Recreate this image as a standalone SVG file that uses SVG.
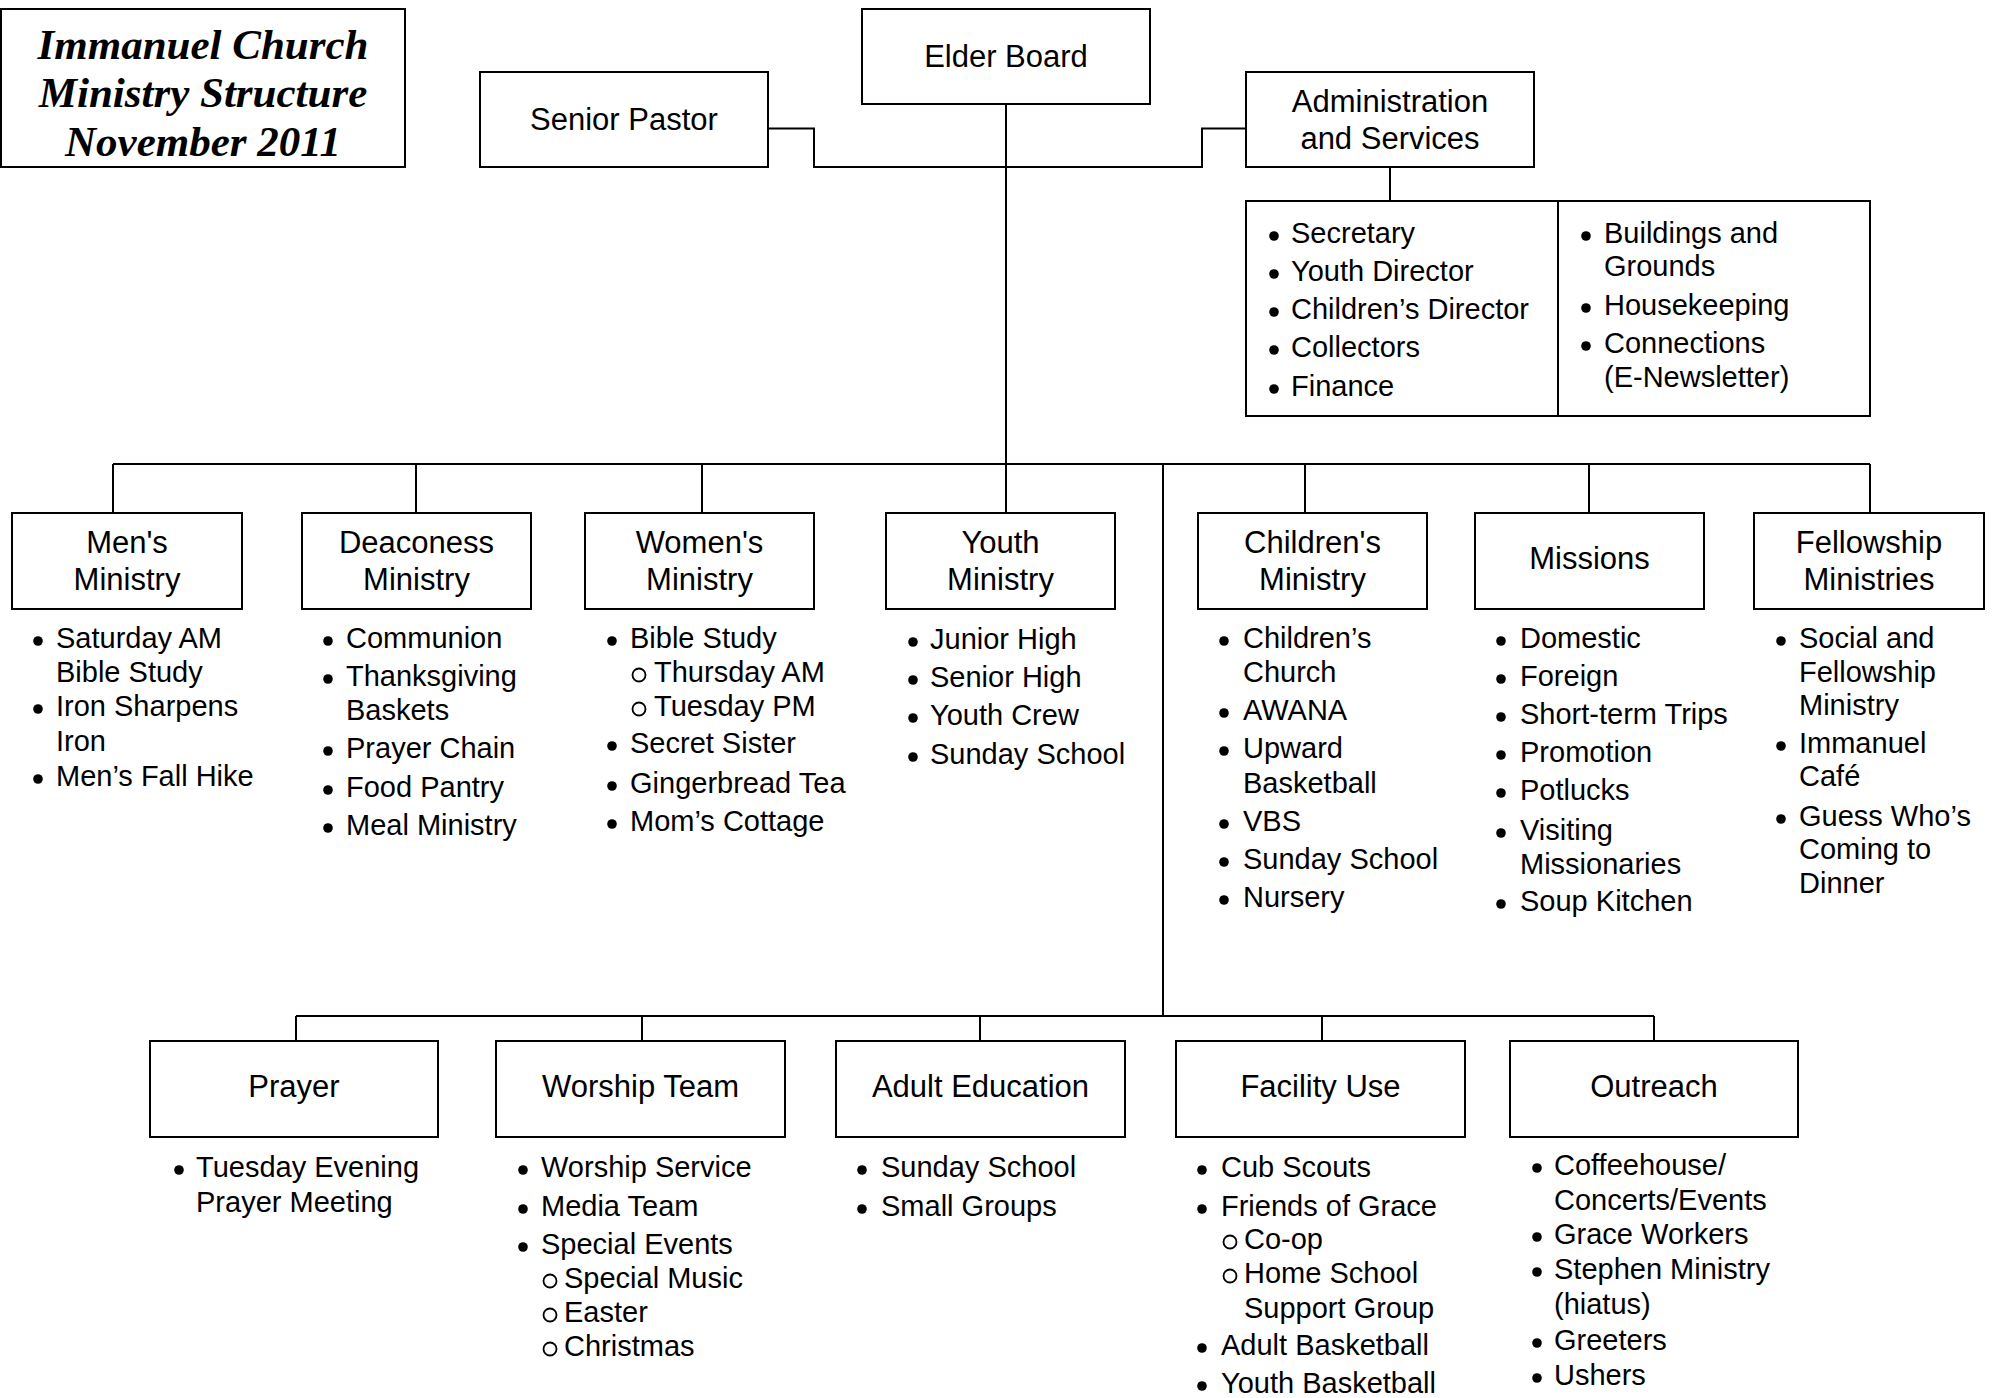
<svg xmlns="http://www.w3.org/2000/svg" width="1996" height="1398" viewBox="0 0 1996 1398">
<style>
.box{fill:#fff;stroke:#000;stroke-width:2}
.conn{fill:none;stroke:#000;stroke-width:2}
.lbl{font-family:"Liberation Sans",Arial,sans-serif;font-size:31px;text-anchor:middle;fill:#000}
.li{font-family:"Liberation Sans",Arial,sans-serif;font-size:29px;fill:#000}
.title{font-family:"Liberation Serif","Times New Roman",serif;font-weight:bold;font-style:italic;font-size:43px;text-anchor:middle;fill:#000}
.b{fill:#000}
.sb{fill:none;stroke:#000;stroke-width:1.8}
</style>
<rect width="1996" height="1398" fill="#fff"/>
<g id="connectors">
<polyline class="conn" points="768,128.5 814,128.5 814,167 1202,167 1202,128.5 1246,128.5"/>
<line class="conn" x1="1006" y1="104" x2="1006" y2="464"/>
<line class="conn" x1="1390" y1="167" x2="1390" y2="201"/>
<line class="conn" x1="113" y1="464" x2="1870" y2="464"/>
<line class="conn" x1="113" y1="464" x2="113" y2="513"/>
<line class="conn" x1="416" y1="464" x2="416" y2="513"/>
<line class="conn" x1="702" y1="464" x2="702" y2="513"/>
<line class="conn" x1="1006" y1="464" x2="1006" y2="513"/>
<line class="conn" x1="1305" y1="464" x2="1305" y2="513"/>
<line class="conn" x1="1589" y1="464" x2="1589" y2="513"/>
<line class="conn" x1="1870" y1="464" x2="1870" y2="513"/>
<line class="conn" x1="1163" y1="464" x2="1163" y2="1016"/>
<line class="conn" x1="296" y1="1016" x2="1654" y2="1016"/>
<line class="conn" x1="296" y1="1016" x2="296" y2="1041"/>
<line class="conn" x1="642" y1="1016" x2="642" y2="1041"/>
<line class="conn" x1="980" y1="1016" x2="980" y2="1041"/>
<line class="conn" x1="1322" y1="1016" x2="1322" y2="1041"/>
<line class="conn" x1="1654" y1="1016" x2="1654" y2="1041"/>
</g>
<g id="title">
<rect class="box" x="1" y="9" width="404" height="158"/>
<text class="title" x="203" y="59">Immanuel Church</text>
<text class="title" x="203" y="107">Ministry Structure</text>
<text class="title" x="203" y="156">November 2011</text>
</g>
<g id="elder-board">
<rect class="box" x="862" y="9" width="288" height="95"/>
<text class="lbl" x="1006" y="67">Elder Board</text>
</g>
<g id="senior-pastor">
<rect class="box" x="480" y="72" width="288" height="95"/>
<text class="lbl" x="624" y="130">Senior Pastor</text>
</g>
<g id="administration">
<rect class="box" x="1246" y="72" width="288" height="95"/>
<text class="lbl" x="1390" y="112">Administration</text>
<text class="lbl" x="1390" y="149">and Services</text>
</g>
<g id="admin-list">
<rect class="box" x="1246" y="201" width="624" height="215"/>
<line class="conn" x1="1558" y1="201" x2="1558" y2="416"/>
<circle class="b" cx="1274" cy="236" r="4.8"/><text class="li" x="1291" y="243">Secretary</text>
<circle class="b" cx="1274" cy="274" r="4.8"/><text class="li" x="1291" y="281">Youth Director</text>
<circle class="b" cx="1274" cy="312" r="4.8"/><text class="li" x="1291" y="319">Children’s Director</text>
<circle class="b" cx="1274" cy="350" r="4.8"/><text class="li" x="1291" y="357">Collectors</text>
<circle class="b" cx="1274" cy="389" r="4.8"/><text class="li" x="1291" y="396">Finance</text>
<circle class="b" cx="1586" cy="236" r="4.8"/><text class="li" x="1604" y="243">Buildings and</text>
<text class="li" x="1604" y="276">Grounds</text>
<circle class="b" cx="1586" cy="308" r="4.8"/><text class="li" x="1604" y="315">Housekeeping</text>
<circle class="b" cx="1586" cy="346" r="4.8"/><text class="li" x="1604" y="353">Connections</text>
<text class="li" x="1604" y="387">(E-Newsletter)</text>
</g>
<g id="mens-ministry">
<rect class="box" x="12" y="513" width="230" height="96"/>
<text class="lbl" x="127" y="553">Men's</text>
<text class="lbl" x="127" y="590">Ministry</text>
<circle class="b" cx="38" cy="641" r="4.8"/><text class="li" x="56" y="648">Saturday AM</text>
<text class="li" x="56" y="682">Bible Study</text>
<circle class="b" cx="38" cy="709" r="4.8"/><text class="li" x="56" y="716">Iron Sharpens</text>
<text class="li" x="56" y="751">Iron</text>
<circle class="b" cx="38" cy="779" r="4.8"/><text class="li" x="56" y="786">Men’s Fall Hike</text>
</g>
<g id="deaconess-ministry">
<rect class="box" x="302" y="513" width="229" height="96"/>
<text class="lbl" x="416.5" y="553">Deaconess</text>
<text class="lbl" x="416.5" y="590">Ministry</text>
<circle class="b" cx="328" cy="641" r="4.8"/><text class="li" x="346" y="648">Communion</text>
<circle class="b" cx="328" cy="679" r="4.8"/><text class="li" x="346" y="686">Thanksgiving</text>
<text class="li" x="346" y="720">Baskets</text>
<circle class="b" cx="328" cy="751" r="4.8"/><text class="li" x="346" y="758">Prayer Chain</text>
<circle class="b" cx="328" cy="790" r="4.8"/><text class="li" x="346" y="797">Food Pantry</text>
<circle class="b" cx="328" cy="828" r="4.8"/><text class="li" x="346" y="835">Meal Ministry</text>
</g>
<g id="womens-ministry">
<rect class="box" x="585" y="513" width="229" height="96"/>
<text class="lbl" x="699.5" y="553">Women's</text>
<text class="lbl" x="699.5" y="590">Ministry</text>
<circle class="b" cx="612" cy="641" r="4.8"/><text class="li" x="630" y="648">Bible Study</text>
<circle class="sb" cx="639" cy="675" r="6.5"/><text class="li" x="654" y="682">Thursday AM</text>
<circle class="sb" cx="639" cy="709" r="6.5"/><text class="li" x="654" y="716">Tuesday PM</text>
<circle class="b" cx="612" cy="746" r="4.8"/><text class="li" x="630" y="753">Secret Sister</text>
<circle class="b" cx="612" cy="786" r="4.8"/><text class="li" x="630" y="793">Gingerbread Tea</text>
<circle class="b" cx="612" cy="824" r="4.8"/><text class="li" x="630" y="831">Mom’s Cottage</text>
</g>
<g id="youth-ministry">
<rect class="box" x="886" y="513" width="229" height="96"/>
<text class="lbl" x="1000.5" y="553">Youth</text>
<text class="lbl" x="1000.5" y="590">Ministry</text>
<circle class="b" cx="913" cy="642" r="4.8"/><text class="li" x="930" y="649">Junior High</text>
<circle class="b" cx="913" cy="680" r="4.8"/><text class="li" x="930" y="687">Senior High</text>
<circle class="b" cx="913" cy="718" r="4.8"/><text class="li" x="930" y="725">Youth Crew</text>
<circle class="b" cx="913" cy="757" r="4.8"/><text class="li" x="930" y="764">Sunday School</text>
</g>
<g id="childrens-ministry">
<rect class="box" x="1198" y="513" width="229" height="96"/>
<text class="lbl" x="1312.5" y="553">Children's</text>
<text class="lbl" x="1312.5" y="590">Ministry</text>
<circle class="b" cx="1224" cy="641" r="4.8"/><text class="li" x="1243" y="648">Children’s</text>
<text class="li" x="1243" y="682">Church</text>
<circle class="b" cx="1224" cy="713" r="4.8"/><text class="li" x="1243" y="720">AWANA</text>
<circle class="b" cx="1224" cy="751" r="4.8"/><text class="li" x="1243" y="758">Upward</text>
<text class="li" x="1243" y="793">Basketball</text>
<circle class="b" cx="1224" cy="824" r="4.8"/><text class="li" x="1243" y="831">VBS</text>
<circle class="b" cx="1224" cy="862" r="4.8"/><text class="li" x="1243" y="869">Sunday School</text>
<circle class="b" cx="1224" cy="900" r="4.8"/><text class="li" x="1243" y="907">Nursery</text>
</g>
<g id="missions">
<rect class="box" x="1475" y="513" width="229" height="96"/>
<text class="lbl" x="1589.5" y="569">Missions</text>
<circle class="b" cx="1501" cy="641" r="4.8"/><text class="li" x="1520" y="648">Domestic</text>
<circle class="b" cx="1501" cy="679" r="4.8"/><text class="li" x="1520" y="686">Foreign</text>
<circle class="b" cx="1501" cy="717" r="4.8"/><text class="li" x="1520" y="724">Short-term Trips</text>
<circle class="b" cx="1501" cy="755" r="4.8"/><text class="li" x="1520" y="762">Promotion</text>
<circle class="b" cx="1501" cy="793" r="4.8"/><text class="li" x="1520" y="800">Potlucks</text>
<circle class="b" cx="1501" cy="833" r="4.8"/><text class="li" x="1520" y="840">Visiting</text>
<text class="li" x="1520" y="874">Missionaries</text>
<circle class="b" cx="1501" cy="904" r="4.8"/><text class="li" x="1520" y="911">Soup Kitchen</text>
</g>
<g id="fellowship-ministries">
<rect class="box" x="1754" y="513" width="230" height="96"/>
<text class="lbl" x="1869" y="553">Fellowship</text>
<text class="lbl" x="1869" y="590">Ministries</text>
<circle class="b" cx="1781" cy="641" r="4.8"/><text class="li" x="1799" y="648">Social and</text>
<text class="li" x="1799" y="682">Fellowship</text>
<text class="li" x="1799" y="715">Ministry</text>
<circle class="b" cx="1781" cy="746" r="4.8"/><text class="li" x="1799" y="753">Immanuel</text>
<text class="li" x="1799" y="786">Café</text>
<circle class="b" cx="1781" cy="819" r="4.8"/><text class="li" x="1799" y="826">Guess Who’s</text>
<text class="li" x="1799" y="859">Coming to</text>
<text class="li" x="1799" y="893">Dinner</text>
</g>
<g id="prayer">
<rect class="box" x="150" y="1041" width="288" height="96"/>
<text class="lbl" x="294" y="1097">Prayer</text>
<circle class="b" cx="179" cy="1170" r="4.8"/><text class="li" x="196" y="1177">Tuesday Evening</text>
<text class="li" x="196" y="1212">Prayer Meeting</text>
</g>
<g id="worship-team">
<rect class="box" x="496" y="1041" width="289" height="96"/>
<text class="lbl" x="640.5" y="1097">Worship Team</text>
<circle class="b" cx="523" cy="1170" r="4.8"/><text class="li" x="541" y="1177">Worship Service</text>
<circle class="b" cx="523" cy="1209" r="4.8"/><text class="li" x="541" y="1216">Media Team</text>
<circle class="b" cx="523" cy="1247" r="4.8"/><text class="li" x="541" y="1254">Special Events</text>
<circle class="sb" cx="550" cy="1281" r="6.5"/><text class="li" x="564" y="1288">Special Music</text>
<circle class="sb" cx="550" cy="1315" r="6.5"/><text class="li" x="564" y="1322">Easter</text>
<circle class="sb" cx="550" cy="1349" r="6.5"/><text class="li" x="564" y="1356">Christmas</text>
</g>
<g id="adult-education">
<rect class="box" x="836" y="1041" width="289" height="96"/>
<text class="lbl" x="980.5" y="1097">Adult Education</text>
<circle class="b" cx="862" cy="1170" r="4.8"/><text class="li" x="881" y="1177">Sunday School</text>
<circle class="b" cx="862" cy="1209" r="4.8"/><text class="li" x="881" y="1216">Small Groups</text>
</g>
<g id="facility-use">
<rect class="box" x="1176" y="1041" width="289" height="96"/>
<text class="lbl" x="1320.5" y="1097">Facility Use</text>
<circle class="b" cx="1202" cy="1170" r="4.8"/><text class="li" x="1221" y="1177">Cub Scouts</text>
<circle class="b" cx="1202" cy="1209" r="4.8"/><text class="li" x="1221" y="1216">Friends of Grace</text>
<circle class="sb" cx="1230" cy="1242" r="6.5"/><text class="li" x="1244" y="1249">Co-op</text>
<circle class="sb" cx="1230" cy="1276" r="6.5"/><text class="li" x="1244" y="1283">Home School</text>
<text class="li" x="1244" y="1318">Support Group</text>
<circle class="b" cx="1202" cy="1348" r="4.8"/><text class="li" x="1221" y="1355">Adult Basketball</text>
<circle class="b" cx="1202" cy="1386" r="4.8"/><text class="li" x="1221" y="1393">Youth Basketball</text>
</g>
<g id="outreach">
<rect class="box" x="1510" y="1041" width="288" height="96"/>
<text class="lbl" x="1654" y="1097">Outreach</text>
<circle class="b" cx="1537" cy="1168" r="4.8"/><text class="li" x="1554" y="1175">Coffeehouse/</text>
<text class="li" x="1554" y="1210">Concerts/Events</text>
<circle class="b" cx="1537" cy="1237" r="4.8"/><text class="li" x="1554" y="1244">Grace Workers</text>
<circle class="b" cx="1537" cy="1272" r="4.8"/><text class="li" x="1554" y="1279">Stephen Ministry</text>
<text class="li" x="1554" y="1314">(hiatus)</text>
<circle class="b" cx="1537" cy="1343" r="4.8"/><text class="li" x="1554" y="1350">Greeters</text>
<circle class="b" cx="1537" cy="1378" r="4.8"/><text class="li" x="1554" y="1385">Ushers</text>
</g>
</svg>
